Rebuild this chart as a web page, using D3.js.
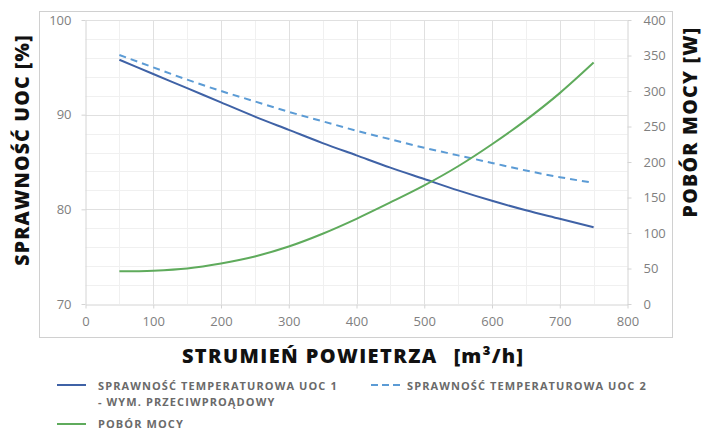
<!DOCTYPE html>
<html>
<head>
<meta charset="utf-8">
<script src="https://cdn.jsdelivr.net/npm/d3@7/dist/d3.min.js"></script>
<style>
  html, body { margin: 0; padding: 0; background: #fff; }
  svg { display: block; }
</style>
</head>
<body>
<svg id="chart" width="704" height="432"></svg>
<script>
// Air flow [m3/h]
const flow = [50, 100, 150, 200, 250, 300, 350, 400, 450, 500, 550, 600, 650, 700, 750];
// Temperature efficiency, exchanger UOC 1 (counter-flow) [%]
const effUoc1 = [95.8, 94.3, 92.8, 91.3, 89.8, 88.4, 87.0, 85.7, 84.4, 83.2, 82.0, 80.9, 79.9, 79.0, 78.1];
// Temperature efficiency, exchanger UOC 2 [%]
const effUoc2 = [96.3, 95.0, 93.7, 92.5, 91.4, 90.3, 89.3, 88.3, 87.4, 86.5, 85.7, 84.9, 84.1, 83.4, 82.8];
// Power consumption [W]
const power = [46, 47, 50, 57, 67, 81, 99, 120, 143, 167, 194, 225, 259, 297, 340];

const xTicks = [0, 100, 200, 300, 400, 500, 600, 700, 800];
const yLeftTicks = [70, 80, 90, 100];
const yRightTicks = [0, 50, 100, 150, 200, 250, 300, 350, 400];

const svg = d3.select("#chart");
const tickFont = "'Open Sans', sans-serif";
const titleFont = "'Open Sans', sans-serif";

const x = d3.scaleLinear().domain([0, 800]).range([85.5, 627.5]);
const yL = d3.scaleLinear().domain([70, 100]).range([304, 20]);
const yR = d3.scaleLinear().domain([0, 400]).range([304, 20]);

// outer frame
svg.append("rect")
  .attr("x", 39.5).attr("y", 11.5).attr("width", 633).attr("height", 326)
  .attr("fill", "none").attr("stroke", "#d0d0d0").attr("stroke-width", 1);

const grid = svg.append("g");
// minor grid
d3.range(50, 800, 100).forEach(v => {
  grid.append("line").attr("x1", Math.round(x(v)) + 0.5).attr("x2", Math.round(x(v)) + 0.5)
    .attr("y1", 20).attr("y2", 304).attr("stroke", "#f0f0f0");
});
d3.range(72, 100, 2).filter(v => v % 10 !== 0).forEach(v => {
  grid.append("line").attr("y1", Math.round(yL(v)) + 0.5).attr("y2", Math.round(yL(v)) + 0.5)
    .attr("x1", 85.5).attr("x2", 627.5).attr("stroke", "#f0f0f0");
});
// major grid
xTicks.slice(1, -1).forEach(v => {
  grid.append("line").attr("x1", Math.round(x(v)) + 0.5).attr("x2", Math.round(x(v)) + 0.5)
    .attr("y1", 20).attr("y2", 304).attr("stroke", "#e0e0e0");
});
yLeftTicks.slice(1).forEach(v => {
  grid.append("line").attr("y1", Math.round(yL(v)) + 0.5).attr("y2", Math.round(yL(v)) + 0.5)
    .attr("x1", 85.5).attr("x2", 627.5).attr("stroke", "#e0e0e0");
});

// axes
function styleAxis(g) {
  g.select(".domain").attr("stroke", "#d4d4d4");
  g.selectAll(".tick line").attr("stroke", "#d4d4d4");
  g.selectAll(".tick text").attr("fill", "#808080")
    .attr("font-family", tickFont).attr("font-size", 13);
}
svg.append("g").attr("transform", "translate(0,304.5)")
  .call(d3.axisBottom(x).tickValues(xTicks).tickSize(4).tickPadding(8).tickSizeOuter(0))
  .call(styleAxis);
svg.append("g").attr("transform", "translate(85.5,0)")
  .call(d3.axisLeft(yL).tickValues(yLeftTicks).tickSize(4).tickPadding(10).tickSizeOuter(0))
  .call(styleAxis);
svg.append("g").attr("transform", "translate(627.5,0)")
  .call(d3.axisRight(yR).tickValues(yRightTicks).tickSize(4).tickPadding(12).tickSizeOuter(0))
  .call(styleAxis);

// series
const lineL = vals => d3.line().x((d, i) => x(flow[i])).y(d => yL(d)).curve(d3.curveMonotoneX)(vals);
const lineR = vals => d3.line().x((d, i) => x(flow[i])).y(d => yR(d)).curve(d3.curveMonotoneX)(vals);

svg.append("path").attr("d", lineL(effUoc2)).attr("fill", "none")
  .attr("stroke", "#5b9bd5").attr("stroke-width", 2).attr("stroke-dasharray", "7,5");
svg.append("path").attr("d", lineL(effUoc1)).attr("fill", "none")
  .attr("stroke", "#3f62a6").attr("stroke-width", 2);
svg.append("path").attr("d", lineR(power)).attr("fill", "none")
  .attr("stroke", "#5fab5c").attr("stroke-width", 2);

// axis titles
svg.append("text")
  .attr("transform", "translate(29,150) rotate(-90)")
  .attr("text-anchor", "middle").attr("letter-spacing", 1.2)
  .attr("font-family", titleFont).attr("font-weight", 800).attr("font-size", 19.5)
  .attr("fill", "#111").text("SPRAWNOŚĆ UOC [%]");
svg.append("text")
  .attr("transform", "translate(697,122) rotate(-90)")
  .attr("text-anchor", "middle").attr("letter-spacing", 1.3)
  .attr("font-family", titleFont).attr("font-weight", 800).attr("font-size", 19.5)
  .attr("fill", "#111").text("POBÓR MOCY [W]");

const xt = svg.append("text").attr("x", 353).attr("y", 363).attr("text-anchor", "middle")
  .attr("font-family", titleFont).attr("fill", "#111");
xt.append("tspan").attr("font-weight", 800).attr("font-size", 20).attr("letter-spacing", 1.4)
  .text("STRUMIEŃ POWIETRZA");
xt.append("tspan").attr("font-weight", 800).attr("font-size", 20).attr("letter-spacing", 1.2)
  .attr("dx", 16).text("[m³/h]");

// legend
const legend = svg.append("g").attr("font-family", titleFont).attr("font-weight", 700)
  .attr("font-size", 11).attr("letter-spacing", 1.1).attr("fill", "#6a6a6a");
legend.append("line").attr("x1", 57).attr("x2", 86).attr("y1", 385).attr("y2", 385)
  .attr("stroke", "#3f62a6").attr("stroke-width", 2);
legend.append("text").attr("x", 98).attr("y", 389.5).text("SPRAWNOŚĆ TEMPERATUROWA UOC 1");
legend.append("text").attr("x", 98).attr("y", 405.5).text("- WYM. PRZECIWPROĄDOWY");
legend.append("line").attr("x1", 371).attr("x2", 403).attr("y1", 385).attr("y2", 385)
  .attr("stroke", "#5b9bd5").attr("stroke-width", 2).attr("stroke-dasharray", "7,4");
legend.append("text").attr("x", 407).attr("y", 389.5).text("SPRAWNOŚĆ TEMPERATUROWA UOC 2");
legend.append("line").attr("x1", 57).attr("x2", 86).attr("y1", 424).attr("y2", 424)
  .attr("stroke", "#5fab5c").attr("stroke-width", 2);
legend.append("text").attr("x", 98).attr("y", 428).text("POBÓR MOCY");
</script>
</body>
</html>
